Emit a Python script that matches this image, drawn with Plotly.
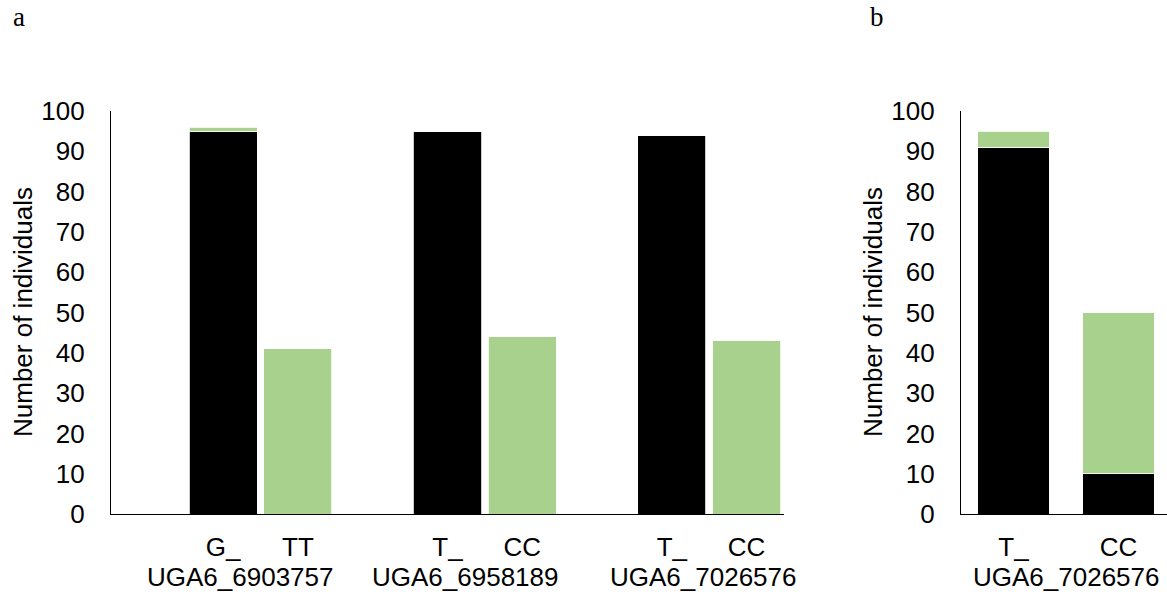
import plotly.graph_objects as go

# ---- data: panel a ----
genotypes_a = ["G_", "TT", "T_", "CC", "T_", "CC"]
markers_a = ["UGA6_6903757", "UGA6_6958189", "UGA6_7026576"]
black_a = [95, 0, 95, 0, 94, 0]
green_a = [1, 41, 0, 44, 0, 43]

# ---- data: panel b ----
genotypes_b = ["T_", "CC"]
marker_b = "UGA6_7026576"
black_b = [91, 10]
green_b = [4, 40]

y_ticks = list(range(0, 101, 10))

BLACK = "#000000"
GREEN = "#A9D18E"
FONT = "Liberation Sans, Arial, sans-serif"
FS = 26

W, H = 1167, 600

# slot positions for panel a: each marker group = 3 slots (empty, black-genotype, green-genotype)
pos_a = []
for g in range(len(markers_a)):
    pos_a += [3 * g + 1.5, 3 * g + 2.5]
pos_b = list(range(len(genotypes_b)))
# label placement (layout) for marker names in panel a
label_offsets = [1.72, 1.73, 1.92]

fig = go.Figure()

line = dict(color="white", width=0.8)
fig.add_trace(go.Bar(x=pos_a, y=black_a, marker=dict(color=BLACK, line=line),
                     width=0.91, xaxis="x", yaxis="y", showlegend=False))
fig.add_trace(go.Bar(x=pos_a, y=green_a, marker=dict(color=GREEN, line=line),
                     width=0.91, xaxis="x", yaxis="y", showlegend=False))
fig.add_trace(go.Bar(x=pos_b, y=black_b, marker=dict(color=BLACK, line=line),
                     width=0.68, xaxis="x2", yaxis="y2", showlegend=False))
fig.add_trace(go.Bar(x=pos_b, y=green_b, marker=dict(color=GREEN, line=line),
                     width=0.68, xaxis="x2", yaxis="y2", showlegend=False))

def px_x(p):
    return p / W

def px_y(p):
    return (H - p) / H

y_dom = [px_y(514), px_y(111)]

common_x = dict(showline=True, linecolor="black", linewidth=1.3, showgrid=False,
                zeroline=False, ticks="outside", ticklen=10, tickcolor="rgba(0,0,0,0)",
                automargin=False,
                tickfont=dict(family=FONT, size=FS, color="black"), fixedrange=True)
common_y = dict(showline=True, linecolor="black", linewidth=1.3, showgrid=False,
                zeroline=False, range=[0, 100], tickvals=y_ticks, automargin=False,
                ticks="outside", ticklen=20, tickcolor="rgba(0,0,0,0)",
                tickfont=dict(family=FONT, size=FS, color="black"), domain=y_dom)

fig.update_layout(
    width=W, height=H,
    margin=dict(l=0, r=0, t=0, b=0, pad=0, autoexpand=False),
    paper_bgcolor="white", plot_bgcolor="white",
    barmode="stack",
    xaxis=dict(domain=[px_x(111), px_x(784)], range=[0, 9],
               tickvals=pos_a, ticktext=genotypes_a, anchor="y", **common_x),
    yaxis=dict(anchor="x", **common_y),
    xaxis2=dict(domain=[px_x(961), 1.0], range=[-0.5, -0.5 + (W - 961) / 105],
                tickvals=pos_b, ticktext=genotypes_b, anchor="y2", **common_x),
    yaxis2=dict(anchor="x2", **common_y),
)

ann = []
# marker labels below panel a
for g, m in enumerate(markers_a):
    ann.append(dict(x=3 * g + label_offsets[g], y=px_y(577), xref="x", yref="paper", text=m,
                    showarrow=False, xanchor="center", yanchor="middle",
                    font=dict(family=FONT, size=FS, color="black")))
ann.append(dict(x=0.5 * (pos_b[0] + pos_b[-1]), y=px_y(577), xref="x2", yref="paper",
                text=marker_b, showarrow=False, xanchor="center", yanchor="middle",
                font=dict(family=FONT, size=FS, color="black")))
# y-axis titles
for xc in (23, 873):
    ann.append(dict(x=px_x(xc), y=px_y(312), xref="paper", yref="paper",
                    text="Number of individuals", textangle=-90, showarrow=False,
                    xanchor="center", yanchor="middle",
                    font=dict(family=FONT, size=FS, color="black")))
# panel letters
for xc, letter in ((19, "a"), (877, "b")):
    ann.append(dict(x=px_x(xc), y=px_y(17), xref="paper", yref="paper", text=letter,
                    showarrow=False, xanchor="center", yanchor="middle",
                    font=dict(family="Liberation Serif, Times New Roman, serif", size=27,
                              color="black")))
fig.update_layout(annotations=ann)

fig.write_html("out.html", config={"displayModeBar": False},
               post_script="document.body.style.margin='0';")
